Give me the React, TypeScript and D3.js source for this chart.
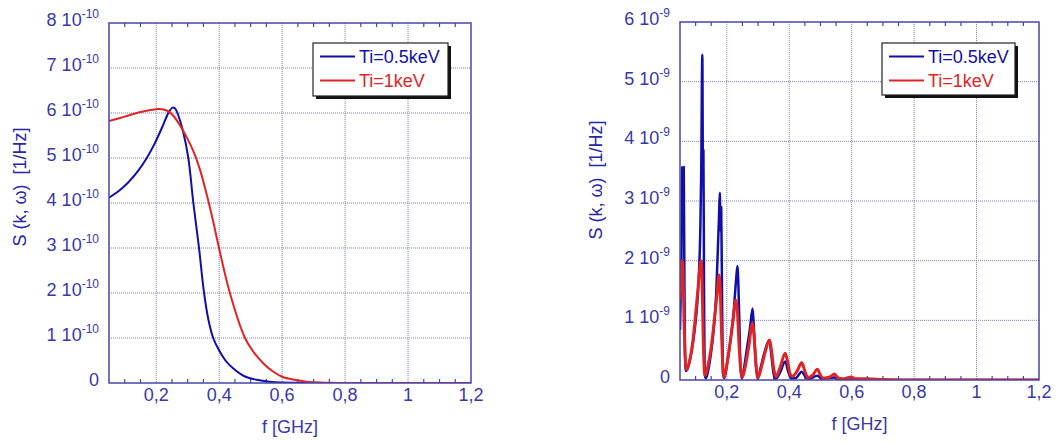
import React from 'react';
import * as d3 from 'd3';

// ---- data ----
// frequencies in GHz, S(k, w) in units of the panel exponent
const xDomain = [0.05, 1.2];
const xMajor = [0.2, 0.4, 0.6, 0.8, 1, 1.2];
const xMajorLabels = ['0,2', '0,4', '0,6', '0,8', '1', '1,2'];
const seriesNames = ['Ti=0.5keV', 'Ti=1keV'];

// left panel, x 1e-10
const leftBlue: [number, number][] = [
  [0.05, 4.12], [0.08, 4.26], [0.11, 4.45], [0.14, 4.69], [0.17, 5.0], [0.195, 5.32], [0.22, 5.7],
  [0.24, 6.02], [0.252, 6.12], [0.26, 6.1], [0.27, 5.95], [0.285, 5.6], [0.302, 5.0], [0.318, 4.0],
  [0.336, 3.0], [0.352, 2.0], [0.366, 1.4], [0.381, 1.0], [0.4, 0.72], [0.42, 0.5], [0.445, 0.32],
  [0.48, 0.15], [0.52, 0.07], [0.56, 0.03], [0.6, 0.012], [0.7, 0.003], [0.8, 0], [1.2, 0],
];
const leftRed: [number, number][] = [
  [0.05, 5.82], [0.1, 5.92], [0.15, 6.02], [0.21, 6.09], [0.235, 6.05], [0.253, 5.95], [0.276, 5.72],
  [0.3, 5.42], [0.32, 5.12], [0.34, 4.72], [0.36, 4.2], [0.38, 3.62], [0.398, 3.05], [0.434, 2.0],
  [0.482, 1.0], [0.51, 0.68], [0.54, 0.44], [0.57, 0.26], [0.6, 0.14], [0.64, 0.07], [0.677, 0.03],
  [0.72, 0.01], [0.76, 0.003], [0.8, 0], [1.2, 0],
];

// right panel, x 1e-9
const rightBlue: [number, number][] = [
  [0.05, 0.84], [0.052, 1.34], [0.055, 2.23], [0.057, 3.57], [0.059, 2.6], [0.061, 2.9], [0.062, 3.57],
  [0.064, 1.8], [0.066, 0.45], [0.069, 0.15], [0.075, 0.2], [0.084, 0.4], [0.095, 0.75], [0.104, 1.2],
  [0.11, 1.7], [0.115, 2.5], [0.118, 3.5], [0.1215, 5.45], [0.1235, 3.4], [0.125, 3.85], [0.127, 1.5],
  [0.129, 0.1], [0.133, 0.03], [0.14, 0.15], [0.148, 0.4], [0.158, 0.85], [0.166, 1.45], [0.172, 2.3],
  [0.175, 2.75], [0.1775, 3.14], [0.18, 2.5], [0.182, 2.9], [0.185, 1.2], [0.188, 0.1], [0.192, 0.03],
  [0.2, 0.25], [0.21, 0.6], [0.222, 1.15], [0.23, 1.7], [0.234, 1.91], [0.237, 1.6], [0.24, 1.0],
  [0.244, 0.2], [0.248, 0.03], [0.255, 0.2], [0.265, 0.55], [0.275, 0.9], [0.2825, 1.2], [0.287, 0.85],
  [0.293, 0.25], [0.299, 0.02], [0.308, 0.2], [0.32, 0.45], [0.336, 0.67], [0.343, 0.4], [0.35, 0.1],
  [0.356, 0.02], [0.37, 0.12], [0.387, 0.31], [0.396, 0.15], [0.406, 0.03], [0.42, 0.03], [0.44, 0.14],
  [0.452, 0.05], [0.462, 0.02], [0.49, 0.07], [0.505, 0.02], [0.545, 0.04], [0.56, 0.01], [0.6, 0.01],
  [0.7, 0], [1.2, 0],
];
const rightRed: [number, number][] = [
  [0.05, 1.34], [0.054, 1.7], [0.057, 2.0], [0.06, 1.75], [0.063, 1.0], [0.067, 0.35], [0.071, 0.17],
  [0.08, 0.3], [0.09, 0.6], [0.1, 1.1], [0.108, 1.55], [0.115, 1.95], [0.1185, 2.0], [0.121, 1.6],
  [0.124, 0.8], [0.128, 0.15], [0.131, 0.08], [0.14, 0.25], [0.15, 0.55], [0.16, 1.0], [0.169, 1.45],
  [0.175, 1.76], [0.179, 1.5], [0.183, 0.8], [0.188, 0.15], [0.191, 0.05], [0.2, 0.25], [0.21, 0.6],
  [0.22, 1.0], [0.229, 1.34], [0.234, 1.15], [0.239, 0.6], [0.245, 0.15], [0.25, 0.05], [0.26, 0.25],
  [0.27, 0.55], [0.282, 0.95], [0.287, 0.75], [0.293, 0.3], [0.3, 0.04], [0.31, 0.2], [0.322, 0.45],
  [0.337, 0.67], [0.343, 0.5], [0.35, 0.2], [0.357, 0.05], [0.37, 0.2], [0.387, 0.45], [0.395, 0.3],
  [0.403, 0.1], [0.41, 0.06], [0.425, 0.15], [0.44, 0.29], [0.45, 0.15], [0.46, 0.04], [0.475, 0.08],
  [0.49, 0.18], [0.5, 0.08], [0.51, 0.03], [0.53, 0.05], [0.545, 0.1], [0.555, 0.04], [0.57, 0.02],
  [0.6, 0.05], [0.61, 0.02], [0.65, 0.02], [0.7, 0.01], [0.8, 0], [1.2, 0],
];

const FONT = '"Liberation Sans", Arial, Helvetica, sans-serif';
const AXIS = '#4646aa';
const LABEL = '#3838ac';
const GRID = '#7c7cb8';
const BLUE = '#1010a8';
const RED = '#e02424';

const panels = [
  {
    id: 'l', x0: 109, x1: 471, y0: 23, y1: 383, yMax: 8, exp: '-10',
    blue: leftBlue, red: leftRed, blueW: 2, redW: 2, curve: d3.curveCatmullRom.alpha(0.5),
    legend: { x: 313, y: 43, w: 135, h: 53 },
    yTitle: { x: 26, y: 187 }, xTitle: { y: 433 },
  },
  {
    id: 'r', x0: 680, x1: 1039, y0: 22, y1: 380, yMax: 6, exp: '-9',
    blue: rightBlue, red: rightRed, blueW: 2.5, redW: 3, curve: d3.curveMonotoneX,
    legend: { x: 882, y: 43, w: 133, h: 52 },
    yTitle: { x: 602, y: 180 }, xTitle: { y: 430 },
  },
];

function Panel({ p }: { p: any }) {
  const x = d3.scaleLinear().domain(xDomain).range([p.x0, p.x1]);
  const y = d3.scaleLinear().domain([0, p.yMax]).range([p.y1, p.y0]);
  const line = d3.line<[number, number]>()
    .x(d => x(d[0]))
    .y(d => y(d[1]))
    .curve(p.curve);

  const yTicks = d3.range(0, p.yMax + 1);
  const minor = x.ticks(23).filter(t => t > 0.06 && t < 1.19 && !xMajor.some(m => Math.abs(m - t) < 1e-6));
  const lg = p.legend;

  return (
    <g fontFamily={FONT}>
      <defs>
        <clipPath id={`clip-${p.id}`}>
          <rect x={p.x0} y={p.y0 - 2} width={p.x1 - p.x0} height={p.y1 - p.y0 + 2} />
        </clipPath>
      </defs>
      {/* grid */}
      {xMajor.slice(0, -1).map(t => (
        <line key={'gx' + t} x1={x(t)} x2={x(t)} y1={p.y0} y2={p.y1} stroke={GRID} strokeWidth={1} strokeDasharray="1,1" />
      ))}
      {yTicks.slice(1, -1).map(t => (
        <line key={'gy' + t} x1={p.x0} x2={p.x1} y1={y(t)} y2={y(t)} stroke={GRID} strokeWidth={1} strokeDasharray="1,1" />
      ))}
      {/* minor ticks */}
      {minor.map(t => (
        <g key={'m' + t}>
          <line x1={x(t)} x2={x(t)} y1={p.y1} y2={p.y1 - 4} stroke={AXIS} strokeWidth={1.2} />
          <line x1={x(t)} x2={x(t)} y1={p.y0} y2={p.y0 + 4} stroke={AXIS} strokeWidth={1.2} />
        </g>
      ))}
      {/* series */}
      <g clipPath={`url(#clip-${p.id})`}>
        <path d={line(p.blue) || ''} fill="none" stroke={BLUE} strokeWidth={p.blueW} strokeLinejoin="round" />
        <path d={line(p.red) || ''} fill="none" stroke={RED} strokeWidth={p.redW} strokeLinejoin="round" />
      </g>
      {/* frame */}
      <rect x={p.x0} y={p.y0} width={p.x1 - p.x0} height={p.y1 - p.y0} fill="none" stroke={AXIS} strokeWidth={1.5} />
      {/* y tick labels */}
      {yTicks.map(t => (
        <text key={'yl' + t} x={p.x0 - 10} y={y(t) + 3} textAnchor="end" fill={LABEL} fontSize={18}>
          {t === 0 ? '0' : (
            <>
              {t + ' 10'}
              <tspan fontSize={12} dy={-8}>{p.exp}</tspan>
            </>
          )}
        </text>
      ))}
      {/* x tick labels */}
      {xMajor.map((t, i) => (
        <text key={'xl' + t} x={x(t)} y={p.y1 + 18} textAnchor="middle" fill={LABEL} fontSize={18}>
          {xMajorLabels[i]}
        </text>
      ))}
      {/* axis titles */}
      <text x={(p.x0 + p.x1) / 2} y={p.xTitle.y} textAnchor="middle" fill={LABEL} fontSize={18}>f [GHz]</text>
      <text
        transform={`translate(${p.yTitle.x},${p.yTitle.y}) rotate(-90)`}
        textAnchor="middle" fill="#2626a8" fontSize={18} style={{ whiteSpace: 'pre' }}
      >
        {'S (k, \u03c9)  [1/Hz]'}
      </text>
      {/* legend */}
      <rect x={lg.x + 3} y={lg.y + 3} width={lg.w} height={lg.h} fill="#111" />
      <rect x={lg.x} y={lg.y} width={lg.w} height={lg.h} fill="#fff" stroke="#222" strokeWidth={1.2} />
      {seriesNames.map((name, i) => {
        const ly = lg.y + 13.5 + i * 24;
        const c = i === 0 ? BLUE : RED;
        return (
          <g key={name}>
            <line x1={lg.x + 7} x2={lg.x + 42} y1={ly} y2={ly} stroke={c} strokeWidth={2} />
            <text x={lg.x + 46} y={ly + 6.5} fill={c} fontSize={18}>{name}</text>
          </g>
        );
      })}
    </g>
  );
}

export default function App() {
  return (
    <svg width={1057} height={443} style={{ position: 'absolute', left: 0, top: 0, background: '#fff' }}>
      {panels.map(p => <Panel key={p.id} p={p} />)}
    </svg>
  );
}
